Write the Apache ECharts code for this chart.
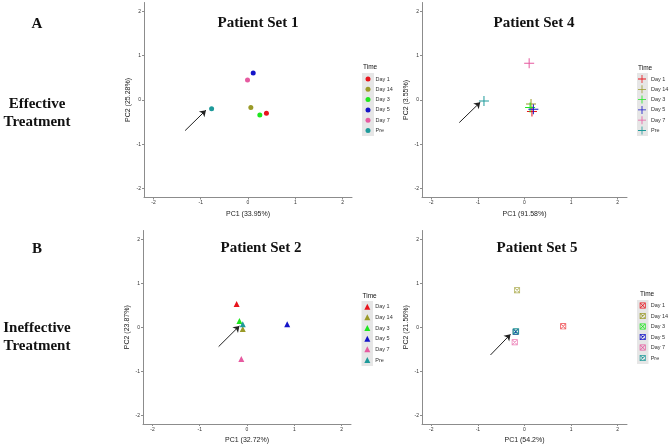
<!DOCTYPE html>
<html>
<head>
<meta charset="utf-8">
<title>PCA by patient set</title>
<script src="https://cdn.jsdelivr.net/npm/echarts@6/dist/echarts.min.js"></script>
<style>
html,body{margin:0;padding:0;background:#fff;}
#main{width:669px;height:445px;}
</style>
</head>
<body>
<div id="main"></div>
<script>
// time points (legend order)
const timePoints = ['Day 1', 'Day 14', 'Day 3', 'Day 5', 'Day 7', 'Pre'];
const tickValues = [-2, -1, 0, 1, 2];

// Patient Set 1 - effective
const set1PC1 = [0.39, 0.06, 0.25, 0.11, -0.01, -0.77];
const set1PC2 = [-0.30, -0.17, -0.34, 0.61, 0.45, -0.20];
const set1Arrow = [[-1.33, -0.69], [-0.89, -0.23]];

// Patient Set 4 - effective
const set4PC1 = [0.16, 0.14, 0.12, 0.19, 0.10, -0.87];
const set4PC2 = [-0.26, -0.09, -0.17, -0.21, 0.83, -0.02];
const set4Arrow = [[-1.40, -0.51], [-0.95, -0.05]];

// Patient Set 2 - ineffective
const set2PC1 = [-0.22, -0.09, -0.16, 0.85, -0.12, -0.09];
const set2PC2 = [0.53, -0.04, 0.14, 0.07, -0.72, 0.07];
const set2Arrow = [[-0.60, -0.44], [-0.16, 0.03]];

// Patient Set 5 - ineffective
const set5PC1 = [0.83, -0.16, -0.19, -0.19, -0.21, -0.18];
const set5PC2 = [0.02, 0.84, -0.10, -0.10, -0.34, -0.09];
const set5Arrow = [[-0.73, -0.63], [-0.30, -0.16]];

const panelTitles = ['Patient Set 1', 'Patient Set 4', 'Patient Set 2', 'Patient Set 5'];
const pc1Titles = ['PC1 (33.95%)', 'PC1 (91.58%)', 'PC1 (32.72%)', 'PC1 (54.2%)'];
const pc2Titles = ['PC2 (25.28%)', 'PC2 (3.55%)', 'PC2 (23.87%)', 'PC2 (21.56%)'];

const colors = ['#e8141c', '#9a9a28', '#1ee61e', '#1414c8', '#e65aa0', '#1e9a9a'];

const crossPath = 'path://M4.5,0H5.5V4.5H10V5.5H5.5V10H4.5V5.5H0V4.5H4.5Z';
const boxCrossPath = 'path://M0,0H10V10H0ZM1.2,1.2V8.8H8.8V1.2ZM1.2,2L2,1.2L8.8,8L8,8.8ZM8.8,2L2,8.8L1.2,8L8,1.2Z';

const panels = [
    {pc1: set1PC1, pc2: set1PC2, arrow: set1Arrow, symbol: 'circle', size: 5,
     grid: {left: 144, top: 2.5, width: 208, height: 195},
     legend: {left: 365.5, top: 75.5, w: 5, h: 5, gap: 3.3}, key: [362, 73, 12, 63], timeXY: [363, 67]},
    {pc1: set4PC1, pc2: set4PC2, arrow: set4Arrow, symbol: crossPath, size: 10,
     grid: {left: 422, top: 2.5, width: 205, height: 195},
     legend: {left: 638, top: 75, w: 8, h: 8, gap: 2.3}, key: [637, 73, 11, 63], timeXY: [638, 68]},
    {pc1: set2PC1, pc2: set2PC2, arrow: set2Arrow, symbol: 'triangle', size: 6,
     grid: {left: 143, top: 230.5, width: 208, height: 195},
     legend: {left: 364.3, top: 303.2, w: 6, h: 6, gap: 3.66}, key: [361.5, 301, 11.5, 65], timeXY: [362.5, 296]},
    {pc1: set5PC1, pc2: set5PC2, arrow: set5Arrow, symbol: boxCrossPath, size: 6,
     grid: {left: 422, top: 230.5, width: 205, height: 195},
     legend: {left: 639.7, top: 302, w: 6, h: 6, gap: 3.5}, key: [637, 300, 11.5, 64], timeXY: [640, 294]}
];

let chart = echarts.init(document.getElementById('main'));

let grids = [], xAxes = [], yAxes = [], series = [], legends = [], graphics = [];

function axisBase(name){
    return {
        type: 'value', min: -2.2, max: 2.2,
        name: name, nameLocation: 'middle', nameGap: 13,
        nameTextStyle: {fontSize: 7, color: '#222', fontFamily: 'Liberation Sans'},
        splitLine: {show: false},
        axisLine: {show: true, onZero: false, lineStyle: {color: '#8c8c8c', width: 1}},
        axisTick: {show: true, length: 2, customValues: tickValues, lineStyle: {color: '#8c8c8c'}},
        axisLabel: {customValues: tickValues, fontSize: 5, margin: 3, color: '#333', fontFamily: 'Liberation Sans'}
    }
}

function text(str, x, y, font, align){
    return {
        type: 'text', x: x, y: y, z: 10,
        style: {text: str, font: font, fill: '#111',
                textAlign: align || 'center', textVerticalAlign: 'middle',
                align: align || 'center', verticalAlign: 'middle'}
    }
}

for(let p = 0; p < panels.length; p++){
    let pn = panels[p];
    grids.push(pn.grid);
    xAxes.push(Object.assign(axisBase(pc1Titles[p]), {gridIndex: p}));
    let ya = axisBase(pc2Titles[p]);
    ya.gridIndex = p;
    ya.nameGap = 12;
    yAxes.push(ya);

    for(let i = 0; i < timePoints.length; i++){
        series.push({
            type: 'scatter', name: timePoints[i],
            xAxisIndex: p, yAxisIndex: p,
            symbol: pn.symbol, symbolSize: pn.size,
            itemStyle: {color: colors[i], opacity: p === 3 ? 0.8 : 1},
            data: [[pn.pc1[i], pn.pc2[i]]]
        })
    }
    series.push({
        type: 'lines', coordinateSystem: 'cartesian2d',
        xAxisIndex: p, yAxisIndex: p, silent: true,
        symbol: ['none', 'arrow'], symbolSize: 6,
        lineStyle: {color: '#222', width: 1, opacity: 1},
        data: [{coords: pn.arrow}]
    });

    legends.push({
        orient: 'vertical', left: pn.legend.left, top: pn.legend.top,
        itemWidth: pn.legend.w, itemHeight: pn.legend.h, itemGap: pn.legend.gap,
        padding: 0, selectedMode: false, z: 5,
        icon: pn.symbol,
        data: timePoints.map((t, i) => ({name: t, itemStyle: {color: colors[i]}})),
        textStyle: {fontSize: 5.5, lineHeight: 7, color: '#333', fontFamily: 'Liberation Sans'}
    });

    graphics.push({
        type: 'rect', z: 0, silent: true,
        shape: {x: pn.key[0], y: pn.key[1], width: pn.key[2], height: pn.key[3]},
        style: {fill: '#e6e6e6'}
    });
    graphics.push(text('Time', pn.timeXY[0], pn.timeXY[1], '6.5px "Liberation Sans"', 'left'));
}

// panel titles
graphics.push(text(panelTitles[0], 258, 23, 'bold 15px "Liberation Serif"'));
graphics.push(text(panelTitles[1], 534, 23, 'bold 15px "Liberation Serif"'));
graphics.push(text(panelTitles[2], 261, 248, 'bold 15px "Liberation Serif"'));
graphics.push(text(panelTitles[3], 537, 248, 'bold 15px "Liberation Serif"'));

// row labels
graphics.push(text('A', 37, 24, 'bold 15px "Liberation Serif"'));
graphics.push(text('Effective', 37, 104, 'bold 15px "Liberation Serif"'));
graphics.push(text('Treatment', 37, 122, 'bold 15px "Liberation Serif"'));
graphics.push(text('B', 37, 249, 'bold 15px "Liberation Serif"'));
graphics.push(text('Ineffective', 37, 328, 'bold 15px "Liberation Serif"'));
graphics.push(text('Treatment', 37, 346, 'bold 15px "Liberation Serif"'));

let option = {
    backgroundColor: '#fff',
    animation: false,
    grid: grids,
    xAxis: xAxes,
    yAxis: yAxes,
    legend: legends,
    graphic: graphics,
    series: series
};
chart.setOption(option);
</script>
</body>
</html>
